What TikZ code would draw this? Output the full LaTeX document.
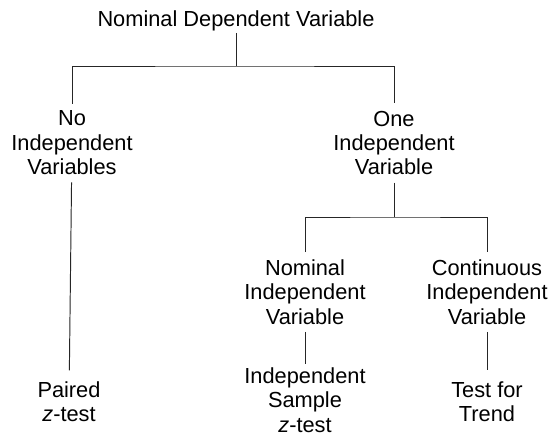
\documentclass[tikz,border=0pt]{standalone}
\usepackage{fontspec}
\setmainfont{Liberation Sans}
\usepackage{xcolor}
\usepackage{tikz}
\usetikzlibrary{positioning,calc}

\tikzset{
 lbl/.style={align=center, inner xsep=2pt, inner ysep=4pt, font=\fontsize{12.4pt}{13.9pt}\selectfont},
 link/.style={draw=black!85, line width=0.55pt}
}

\begin{document}
\begin{tikzpicture}
\useasboundingbox (0,0) rectangle (11.1,8.74);
\node[lbl, inner ysep=1pt] (dv) at (4.72,8.33) {Nominal Dependent Variable};
\node[lbl] (noiv) at (1.44,5.88) {No\\Independent\\Variables};
\node[lbl] (oneiv) at (7.88,5.88) {One\\Independent\\Variable};
\node[lbl] (nomiv) at (6.10,2.90) {Nominal\\Independent\\Variable};
\node[lbl] (contiv) at (9.74,2.90) {Continuous\\Independent\\Variable};
\node[lbl] (pz) at (1.38,0.70) {Paired\\\textit{z}-test};
\node[lbl] (isz) at (6.10,0.74) {Independent\\Sample\\\textit{z}-test};
\node[lbl] (tt) at (9.74,0.70) {Test for\\Trend};
\coordinate (j1) at (4.72,7.42);
\coordinate (j2) at (7.88,4.40);
% tree connectors
\draw[link] (dv) -- (j1);
\draw[link] (noiv) |- (j1) -| (oneiv);
\draw[link] (oneiv) -- (j2);
\draw[link] (nomiv) |- (j2) -| (contiv);
\draw[link, shorten >=2.3pt] (noiv) -- (pz);
\draw[link, shorten >=-2pt] (nomiv) -- (isz);
\draw[link, shorten >=2.3pt] (contiv) -- (tt);
\end{tikzpicture}
\end{document}
